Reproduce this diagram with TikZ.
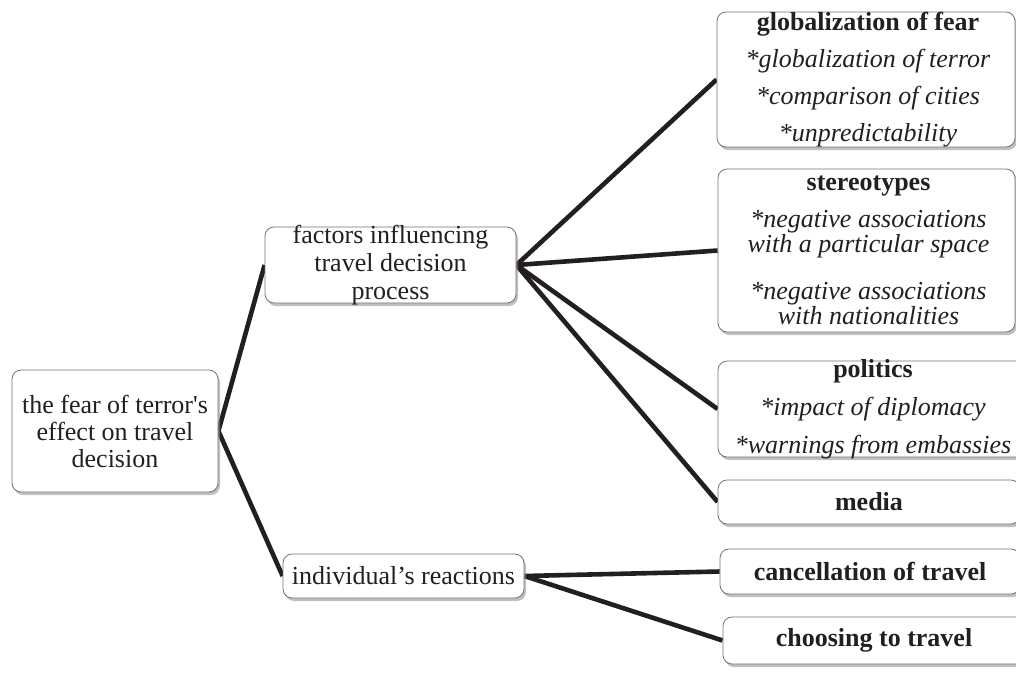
\documentclass[tikz,border=0pt]{standalone}
\usepackage{fontspec}
\setmainfont{Liberation Serif}
\usetikzlibrary{positioning,shadows,calc}
\pgfdeclarelayer{background}
\pgfsetlayers{background,main}
\definecolor{ink}{HTML}{231F20}

\begin{document}
\begin{tikzpicture}[x=1pt, y=-1pt,
		box/.style={draw=black!55, line width=0.8pt, fill=white, rounded corners=9pt, inner sep=0pt,
			drop shadow={shadow xshift=2pt, shadow yshift=-3pt, fill=black!45, opacity=0.55}},
		txt/.style={align=center, inner sep=0pt, text=ink},
		branch/.style={draw=ink, line width=4.6pt},
		>=latex]
	\useasboundingbox (0,0) rectangle (1016,672);

	% left and middle boxes
	\node[box, minimum width=206pt, minimum height=122pt] (root) at (115,431) {};
	\node[txt, font=\fontsize{26}{27}\selectfont] (rootT) at (root) {the fear of terror\textquotesingle s\\effect on travel\\decision};

	\node[box, minimum width=251pt, minimum height=76pt] (factors) at (390.5,265) {};
	\node[txt, font=\fontsize{26}{28}\selectfont] (factorsT) at (factors) {factors influencing\\travel decision\\process};

	\node[box, minimum width=241pt, minimum height=44pt] (react) at (403.5,576) {};
	\node[txt, font=\fontsize{26}{28}\selectfont] (reactT) at (react) {individual’s reactions};

	% right boxes
	\node[box, minimum width=298pt, minimum height=135pt] (glob) at (866,79.5) {};
	\node[txt, font=\fontsize{26}{37}\selectfont] (globT) at ($(glob)+(2,0)$) {\textbf{globalization of fear}\\\textit{*globalization of terror}\\\textit{*comparison of cities}\\\textit{*unpredictability}};

	\node[box, minimum width=297pt, minimum height=163pt] (stereo) at (866.5,250.5) {};
	\node[txt, font=\fontsize{26}{22}\selectfont] (stereoT) at ($(stereo)+(2,0)$) {\textbf{stereotypes}\\[13pt]\textit{*negative associations}\\\textit{with a particular space}\\[24pt]\textit{*negative associations}\\\textit{with nationalities}};

	\node[box, minimum width=310pt, minimum height=96pt] (politics) at (873,409) {};
	\node[txt, font=\fontsize{26}{38}\selectfont] (politicsT) at (politics) {\textbf{politics}\\\textit{*impact of diplomacy}\\\textit{*warnings from embassies}};

	\node[box, minimum width=302pt, minimum height=44pt] (media) at (869,502) {};
	\node[txt, font=\bfseries\fontsize{26}{28}\selectfont] (mediaT) at (media) {media};

	\node[box, minimum width=300pt, minimum height=45pt] (cancel) at (870,571.5) {};
	\node[txt, font=\bfseries\fontsize{26}{28}\selectfont] (cancelT) at (cancel) {cancellation of travel};

	\node[box, minimum width=302pt, minimum height=47pt] (choose) at (874,640.5) {};
	\node[txt, font=\bfseries\fontsize{26}{28}\selectfont] (chooseT) at (choose) {choosing to travel};

	% connectors
	\begin{pgfonlayer}{background}
		\draw[branch] (root.east) -- (factors.west);
		\draw[branch] (root.east) -- (react.west);
		\foreach \n in {glob,stereo,politics,media}
			\draw[branch] (factors.east) -- (\n.west);
		\draw[branch] (react.east) -- (cancel.west);
		\draw[branch] (react.east) -- (choose.west);
	\end{pgfonlayer}
\end{tikzpicture}
\end{document}
